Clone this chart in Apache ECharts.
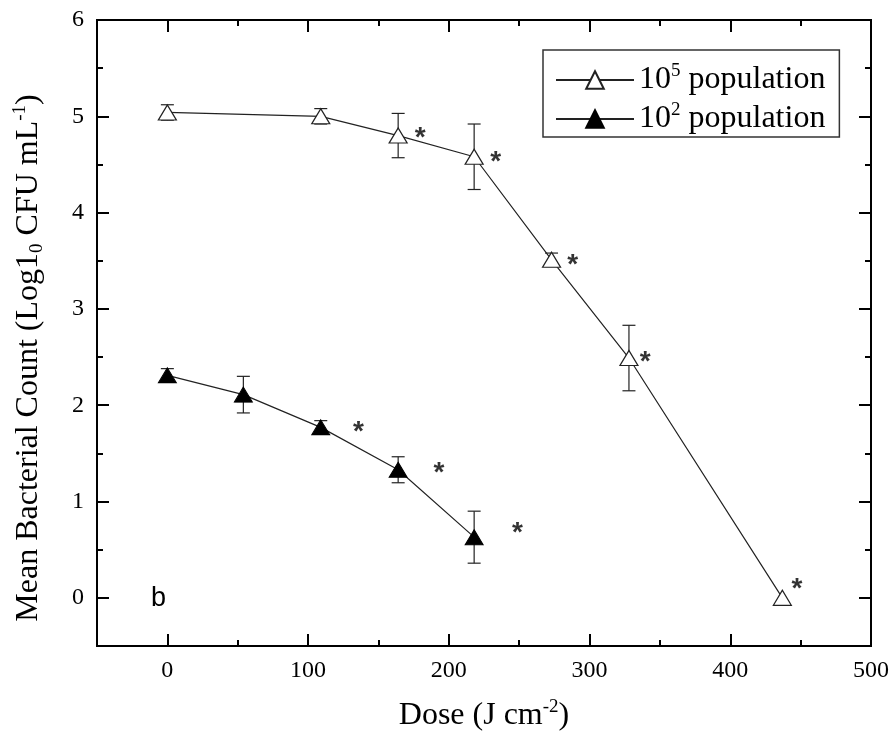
<!DOCTYPE html>
<html>
<head>
<meta charset="utf-8">
<script src="https://cdn.jsdelivr.net/npm/echarts@6/dist/echarts.min.js"></script>
<style>
html,body{margin:0;padding:0;background:#fff;}
#chart{width:894px;height:745px;}
</style>
</head>
<body>
<div id="chart"></div>
<script>
// ---- data ----
const dose5 = [0, 109, 164, 218, 273, 328, 437];
const mean5 = [5.04, 5.0, 4.8, 4.58, 3.51, 2.49, 0.0];
const err5  = [0.08, 0.08, 0.23, 0.34, 0.07, 0.34, 0];

const dose2 = [0, 54, 109, 164, 218];
const mean2 = [2.31, 2.11, 1.77, 1.33, 0.63];
const err2  = [0.07, 0.19, 0.07, 0.135, 0.27];

// significance asterisk positions
const star5X = [179.6, 233.4, 288, 339.5, 447.3];
const star5Y = [4.81, 4.56, 3.49, 2.49, 0.13];
const star2X = [135.8, 193, 248.8];
const star2Y = [1.76, 1.33, 0.71];

const xMajor = [0, 100, 200, 300, 400, 500];
const xMinor = [50, 150, 250, 350, 450];
const yMajor = [0, 1, 2, 3, 4, 5, 6];
const yMinor = [0.5, 1.5, 2.5, 3.5, 4.5, 5.5];

const seriesNames = ['10^5 population', '10^2 population'];

// ---- chart ----
const SERIF = 'Liberation Serif, Times New Roman, serif';
const SANS = 'Liberation Sans, Arial, sans-serif';
const BLACK = '#000';

function zip(a, b, c) { return a.map((v, i) => c ? [v, b[i], c[i]] : [v, b[i]]); }

function axisBase(pos, major, lenMajor, labels) {
  return {
    type: 'value', position: pos,
    splitLine: { show: false },
    axisLine: { show: true, onZero: false, lineStyle: { color: BLACK, width: 2 } },
    axisTick: { show: true, inside: true, length: lenMajor, customValues: major, lineStyle: { color: BLACK, width: 2 } },
    axisLabel: labels ? { show: true, customValues: major, color: BLACK, fontFamily: SERIF, fontSize: 24, margin: 13 } : { show: false }
  };
}

const richAxis = {
  a: { fontFamily: SERIF, fontSize: 32, color: BLACK, lineHeight: 36, verticalAlign: 'middle' },
  s: { fontFamily: SERIF, fontSize: 19, color: BLACK, lineHeight: 19, verticalAlign: 'top', padding: [0, 0, 0, 0] },
  b: { fontFamily: SERIF, fontSize: 19, color: BLACK, lineHeight: 19, verticalAlign: 'bottom', padding: [0, 0, 0, 0] }
};

const xAxes = [
  Object.assign(axisBase('bottom', xMajor, 12, true), {
    min: -50, max: 500,
    name: '{a|Dose (J cm}{s|-2}{a|)}', nameLocation: 'middle', nameGap: 52,
    nameTextStyle: { rich: richAxis }
  }),
  Object.assign(axisBase('top', xMajor, 12, false), { min: -50, max: 500 }),
  Object.assign(axisBase('bottom', xMinor, 6, false), { min: -50, max: 500 }),
  Object.assign(axisBase('top', xMinor, 6, false), { min: -50, max: 500 })
];
const yAxes = [
  Object.assign(axisBase('left', yMajor, 12, true), {
    min: -0.5, max: 6,
    name: '{a|Mean Bacterial Count (Log1}{b|0}{a| CFU mL}{s|-1}{a|)}', nameLocation: 'middle', nameGap: 50,
    nameTextStyle: { rich: richAxis, padding: [0, 50, 0, 0] }
  }),
  Object.assign(axisBase('right', yMajor, 12, false), { min: -0.5, max: 6 }),
  Object.assign(axisBase('left', yMinor, 6, false), { min: -0.5, max: 6 }),
  Object.assign(axisBase('right', yMinor, 6, false), { min: -0.5, max: 6 })
];

function errorBars(name, data) {
  return {
    type: 'custom', name: name + ' err', z: 1, silent: true,
    encode: { x: 0, y: 1 },
    data: data,
    renderItem: function (params, api) {
      const e = api.value(2);
      if (!e) return null;
      const x = api.value(0), y = api.value(1);
      const top = api.coord([x, y + e]);
      const bot = api.coord([x, y - e]);
      const hw = 6.5;
      const st = { stroke: '#222', lineWidth: 1.2 };
      return {
        type: 'group',
        children: [
          { type: 'line', shape: { x1: top[0], y1: top[1], x2: bot[0], y2: bot[1] }, style: st },
          { type: 'line', shape: { x1: top[0] - hw, y1: top[1], x2: top[0] + hw, y2: top[1] }, style: st },
          { type: 'line', shape: { x1: bot[0] - hw, y1: bot[1], x2: bot[0] + hw, y2: bot[1] }, style: st }
        ]
      };
    }
  };
}

function stars(data) {
  return {
    type: 'scatter', z: 5, silent: true,
    symbol: 'circle', symbolSize: 0,
    itemStyle: { color: 'rgba(0,0,0,0)' },
    data: data,
    label: {
      show: true, position: 'inside', formatter: '*',
      fontFamily: SANS, fontWeight: 'bold', fontSize: 28, color: BLACK, offset: [0, 4]
    }
  };
}

const option = {
  animation: false,
  backgroundColor: '#fff',
  grid: { left: 97, right: 23, top: 20, bottom: 99, containLabel: false },
  xAxis: xAxes,
  yAxis: yAxes,
  legend: {
    data: seriesNames,
    orient: 'vertical',
    left: 543, top: 50,
    borderColor: '#333', borderWidth: 1.5,
    padding: [12, 14, 2, 12],
    itemWidth: 78, itemHeight: 22, itemGap: 5,
    selectedMode: false,
    textStyle: {
      color: BLACK,
      rich: {
        a: { fontFamily: SERIF, fontSize: 32, color: BLACK, lineHeight: 36, verticalAlign: 'middle' },
        s: { fontFamily: SERIF, fontSize: 19, color: BLACK, lineHeight: 19, verticalAlign: 'top' }
      }
    },
    formatter: function (n) {
      const p = n.split('^');
      const sup = p[1].split(' ')[0];
      return '{a|' + p[0] + '}{s|' + sup + '}{a| population}';
    }
  },
  series: [
    errorBars('e5', zip(dose5, mean5, err5)),
    errorBars('e2', zip(dose2, mean2, err2)),
    {
      type: 'line', name: seriesNames[0], z: 3,
      data: zip(dose5, mean5),
      symbol: 'triangle', symbolSize: [18, 15],
      lineStyle: { color: '#222', width: 1.2 },
      itemStyle: { color: '#fff', borderColor: '#222', borderWidth: 1.2 }
    },
    {
      type: 'line', name: seriesNames[1], z: 3,
      data: zip(dose2, mean2),
      symbol: 'triangle', symbolSize: [18, 15],
      lineStyle: { color: '#222', width: 1.2 },
      itemStyle: { color: '#000', borderColor: '#000', borderWidth: 1 }
    },
    stars(zip(star5X, star5Y)),
    stars(zip(star2X, star2Y))
  ],
  graphic: [
    { type: 'text', left: 151, top: 585, style: { text: 'b', fontFamily: SANS, fontSize: 27, fill: BLACK } }
  ]
};

const chart = echarts.init(document.getElementById('chart'), null, { renderer: 'canvas' });
chart.setOption(option);
</script>
</body>
</html>
